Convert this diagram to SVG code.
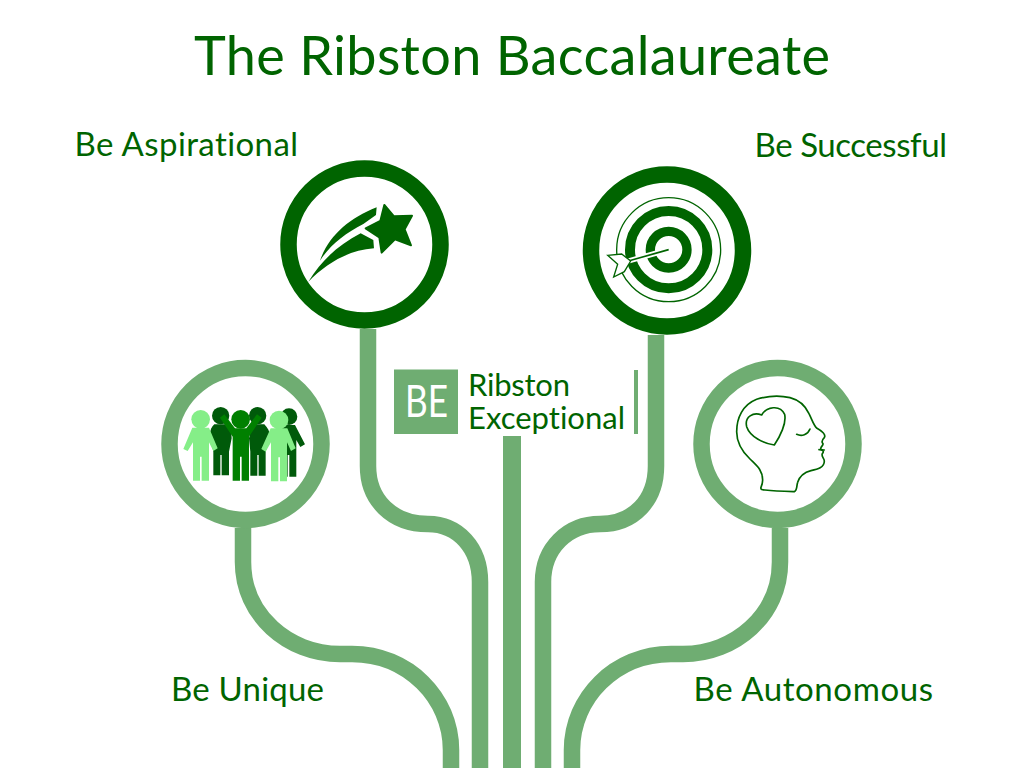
<svg xmlns="http://www.w3.org/2000/svg" width="1024" height="768" viewBox="0 0 1024 768">
<style>
text{font-family:"Lato","Liberation Sans",sans-serif;fill:#006400;font-variant-ligatures:none}
.label{font-size:33px}
.pipe{fill:none;stroke:#6fad72;stroke-width:16.5}
.ring{fill:#fff;stroke-width:16.5}
.dk{stroke:#006400}.lt{stroke:#6fad72}
.fd{fill:#006400;stroke:none}
.line{fill:none;stroke:#006400;stroke-width:5;stroke-linecap:round;stroke-linejoin:round}
</style>
<rect width="1024" height="768" fill="#fff"/>
<text x="194" y="75" font-size="54" textLength="636" lengthAdjust="spacing">The Ribston Baccalaureate</text>
<g id="connectors">
<path class="pipe" d="M368 329V466C368 500 392 524 428 524C458 524 480 548 480 582V768"/>
<path class="pipe" d="M656 335V466C656 500 634 524 600 524C568 524 543 548 543 582V768"/>
<path class="pipe" d="M243 528V562C243 615 288 654 340 654H352C408 654 451 698 451 750V768"/>
<path class="pipe" d="M780 528V562C780 615 735 654 683 654H671C615 654 572 698 572 750V768"/>
<rect x="503" y="436" width="18" height="332" fill="#6fad72"/>
</g>
<g id="node-aspirational">
<text class="label" x="74.500" y="156" textLength="223.500">Be Aspirational</text>
<circle class="ring dk" cx="364.500" cy="244.500" r="76"/>
<g transform="translate(270 150) scale(.3333)">
<path d="M343 165L372 199L426 197L404 238L423 286L375 268L335 308L328 262L287 235L331 213Z" style="fill:#006400;stroke:#006400;stroke-width:6;stroke-linejoin:round"/>
<path class="fd" d="M320 172L318 195L280 222C225 250 180 285 150 332C175 260 235 205 320 172Z"/>
<path class="fd" d="M272 250L310 270L312 295C235 300 170 340 115 395C155 330 205 285 272 250Z"/>
</g>
</g>
<g id="node-successful">
<text class="label" x="754.500" y="157" textLength="192.500">Be Successful</text>
<circle class="ring dk" cx="667" cy="250.500" r="76"/>
<g transform="translate(575 155) scale(.3333)">
<circle cx="281" cy="284" r="156" fill="none" stroke="#006400" stroke-width="4"/>
<circle cx="281" cy="284" r="116" fill="none" stroke="#006400" stroke-width="30"/>
<circle cx="281" cy="284" r="55" fill="none" stroke="#006400" stroke-width="28"/>
<path d="M281 284L160 318" stroke="#fff" stroke-width="16" fill="none"/>
<path d="M281 284L160 318" stroke="#006400" stroke-width="5" fill="none"/>
<path d="M98 301L140 297L167 318L148 350L116 366L128 328Z" fill="#fff" stroke="#006400" stroke-width="4"/>
</g>
</g>
<g id="node-unique">
<text class="label" x="171" y="701" textLength="153">Be Unique</text>
<circle class="ring lt" cx="245.500" cy="444" r="76"/>
<g transform="translate(155 355) scale(.3333)">
<g fill="#005a0a" stroke="none">
<circle cx="197" cy="182" r="26"/><path d="M178 208H218C226 218 230 232 230 250L222 290V361H200V300H196V361H175V290L165 240C165 225 170 215 178 208Z"/>
<circle cx="308" cy="182" r="26"/><path d="M292 208H328C338 218 345 230 345 245L332 290V362H311V300H307V362H286V290L282 250Z"/>
<circle cx="402" cy="185" r="25"/><path d="M380 210H420L450 268L436 276L424 255V365H403V300H398V365H385Z"/>
</g>
<g fill="#85ee88" stroke="none">
<circle cx="137" cy="193" r="28"/><path d="M112 218H162L188 280L175 288L162 262V377H140V305H135V377H114V262L98 288L85 282Z"/>
<circle cx="372" cy="195" r="28"/><path d="M347 220H397L422 280L408 288L396 262V379H375V307H370V379H348V262L332 290L319 282Z"/>
</g>
<g fill="#008000" stroke="none">
<circle cx="257" cy="193" r="28"/><path d="M195 188L208 178L240 220H274L306 178L320 188L282 245V377H260V305H255V377H233V245Z"/>
</g>
</g>
</g>
<g id="node-autonomous">
<text class="label" x="693.500" y="701" textLength="239.500">Be Autonomous</text>
<circle class="ring lt" cx="777.500" cy="444" r="76"/>
<g transform="translate(685 355) scale(.3333)">
<path class="line" d="M228 397C226 404 232 405 240 405C270 408 300 409 328 410C338 405 334 392 338 382C344 364 358 352 378 347C398 343 418 338 418 318C418 310 408 304 412 296C418 290 414 286 408 284C404 276 416 272 414 266C408 260 412 254 418 248C424 238 410 228 396 220C386 212 382 196 372 176C360 150 338 134 315 128C290 122 250 122 215 133C172 150 155 190 155 230C155 262 172 290 195 312C215 332 233 345 233 375C233 383 231 390 228 397Z"/>
<path class="line" d="M402 284L418 285"/>
<path class="line" d="M335 238C350 245 368 240 375 222"/>
<path class="line" d="M268 270C235 265 195 245 185 215C178 185 205 170 230 180C245 155 285 148 299 178C305 205 285 245 268 270Z"/>
</g>
</g>
<g id="node-logo">
<rect x="394" y="369.500" width="64" height="64.500" fill="#6fad72"/>
<text x="405" y="417" font-size="44" textLength="43" lengthAdjust="spacingAndGlyphs" style="fill:#fff">BE</text>
<text x="468" y="396" font-size="31" textLength="102">Ribston</text>
<text x="468" y="429" font-size="31" textLength="157">Exceptional</text>
<rect x="634" y="370" width="4" height="64" fill="#6fad72"/>
</g>
</svg>
